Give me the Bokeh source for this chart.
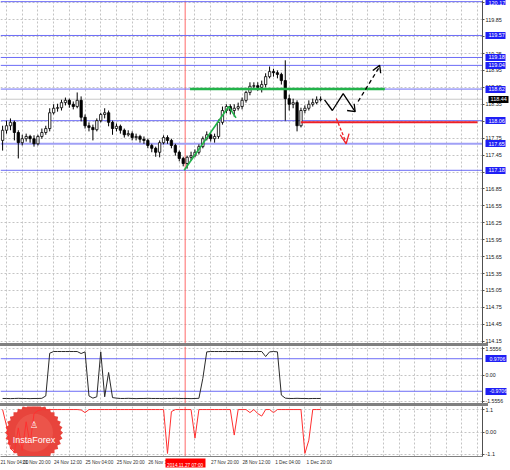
from bokeh.plotting import figure
from bokeh.layouts import column
from bokeh.models import (Range1d, FixedTicker, Span, Label, Div, ColumnDataSource,
                          LinearAxis)
from bokeh.embed import file_html
from bokeh.resources import INLINE

# ---------------- data ----------------
# hour index counted from 21 Nov 04:00 (2-hour bars)
hours = list(range(6, 170, 2))
opens = [117.71, 117.89, 117.97, 118.03, 117.85, 117.67, 117.74, 117.78, 117.74, 117.65,
         117.78, 117.85, 117.92, 118.20, 118.28, 118.29, 118.38, 118.42, 118.35, 118.31,
         118.42, 118.12, 117.97, 117.94, 117.90, 118.06, 118.17, 118.20, 118.03, 117.92,
         117.96, 117.89, 117.81, 117.83, 117.76, 117.78, 117.73, 117.71, 117.62, 117.57,
         117.50, 117.67, 117.76, 117.71, 117.62, 117.50, 117.39, 117.30, 117.41, 117.44,
         117.50, 117.60, 117.74, 117.81, 117.74, 117.78, 118.03, 118.24, 118.31, 118.24,
         118.28, 118.31, 118.42, 118.56, 118.67, 118.68, 118.65, 118.70, 118.84, 118.93,
         118.91, 118.88, 118.77, 118.45, 118.35, 118.38, 117.97, 118.24, 118.28, 118.35,
         118.38, 118.43]
highs = [117.97, 118.06, 118.10, 118.06, 117.89, 117.81, 117.83, 117.81, 117.80, 117.81,
         117.92, 117.97, 118.28, 118.35, 118.36, 118.43, 118.47, 118.45, 118.40, 118.56,
         118.49, 118.17, 118.03, 117.99, 118.10, 118.20, 118.28, 118.24, 118.06, 118.01,
         117.99, 117.92, 117.89, 117.87, 117.83, 117.81, 117.78, 117.74, 117.65, 117.60,
         117.71, 117.80, 117.80, 117.74, 117.65, 117.53, 117.42, 117.44, 117.51, 117.55,
         117.64, 117.78, 117.87, 117.85, 117.83, 118.08, 118.31, 118.35, 118.35, 118.35,
         118.38, 118.47, 118.59, 118.74, 118.74, 118.74, 118.77, 118.90, 119.02, 118.98,
         118.95, 118.91, 119.13, 118.52, 118.45, 118.42, 118.29, 118.33, 118.42, 118.45,
         118.49, 118.49]
lows = [117.53, 117.83, 117.89, 117.71, 117.39, 117.62, 117.69, 117.67, 117.60, 117.62,
        117.74, 117.81, 117.87, 118.17, 118.22, 118.24, 118.33, 118.29, 118.26, 118.28,
        118.05, 117.92, 117.87, 117.71, 117.87, 118.03, 118.10, 117.96, 117.81, 117.87,
        117.83, 117.76, 117.78, 117.71, 117.71, 117.67, 117.65, 117.57, 117.50, 117.42,
        117.41, 117.64, 117.65, 117.57, 117.44, 117.34, 117.25, 117.21, 117.35, 117.41,
        117.46, 117.57, 117.71, 117.69, 117.67, 117.74, 117.99, 118.19, 118.17, 118.13,
        118.24, 118.26, 118.38, 118.51, 118.61, 118.59, 118.56, 118.65, 118.81, 118.84,
        118.81, 118.70, 118.06, 118.24, 118.28, 117.87, 117.94, 118.19, 118.24, 118.31,
        118.35, 118.40]
closes = [117.89, 117.97, 118.03, 117.85, 117.67, 117.74, 117.78, 117.74, 117.65, 117.78,
          117.85, 117.92, 118.20, 118.28, 118.29, 118.38, 118.42, 118.35, 118.31, 118.42,
          118.12, 117.97, 117.94, 117.90, 118.06, 118.17, 118.20, 118.03, 117.92, 117.96,
          117.89, 117.81, 117.83, 117.76, 117.78, 117.73, 117.71, 117.62, 117.57, 117.50,
          117.67, 117.76, 117.71, 117.62, 117.50, 117.39, 117.30, 117.41, 117.44, 117.50,
          117.60, 117.74, 117.81, 117.74, 117.78, 118.03, 118.24, 118.31, 118.24, 118.28,
          118.31, 118.42, 118.56, 118.67, 118.68, 118.65, 118.70, 118.84, 118.93, 118.91,
          118.88, 118.77, 118.45, 118.35, 118.38, 117.97, 118.24, 118.28, 118.35, 118.38,
          118.43, 118.44]

osc1 = [-1.40, -1.40, -1.41, -1.40, -1.39, -1.40, -1.40, -1.41, -1.40, -1.40,
        -1.39, -1.25, 1.30, 1.40, 1.40, 1.40, 1.40, 1.40, 1.40, 1.40,
        1.28, 1.38, -1.25, -1.38, -1.30, 1.38, -1.30, 0.15, -1.35, -1.38,
        -1.40, -1.40, -1.39, -1.40, -1.41, -1.40, -1.40, -1.39, -1.40, -1.40,
        -1.40, -1.41, -1.40, -1.40, -1.39, -1.40, -1.40, -1.40, -1.41, -1.40,
        -1.39, -0.20, 1.38, 1.40, 1.40, 1.40, 1.40, 1.40, 1.40, 1.40,
        1.40, 1.40, 1.40, 1.40, 1.40, 1.40, 1.40, 1.10, 1.38, 1.40,
        1.38, -1.20, -1.38, -1.40, -1.40, -1.39, -1.40, -1.40, -1.41, -1.40,
        -1.40, -1.40]
osc2 = [1.10, 0.30, -0.80, -1.00, 0.20, -0.90, 0.50, -0.60, 0.90, 1.05,
        1.10, 1.10, 1.10, 1.10, 1.10, 1.10, 1.10, 1.10, 1.10, 1.10,
        1.08, 0.95, 1.10, 1.10, 1.10, 1.10, 1.10, 1.10, 1.10, 1.10,
        1.10, 1.10, 1.10, 1.10, 1.10, 1.10, 1.10, 1.10, 1.10, 1.10,
        1.10, 1.10, -1.05, 1.00, 1.10, 1.10, 1.10, 1.10, 1.10, -0.30,
        1.10, 1.10, 1.10, 1.10, 1.10, 1.10, 1.10, 1.10, 1.10, -0.15,
        1.10, 1.10, 1.10, 0.95, 1.10, 0.90, 0.78, 1.10, 1.10, 0.95,
        1.10, 1.10, 1.10, 1.10, 1.10, 1.10, 1.10, -1.05, -0.40, 1.10,
        1.10, 1.10]

levels = [120.17, 119.57, 119.18, 119.04, 118.62, 118.06, 117.65, 117.18]
current_price = 118.44
main_ticks = [114.15, 114.45, 114.75, 115.05, 115.35, 115.65, 115.95, 116.25, 116.55,
              116.85, 117.15, 117.45, 117.75, 118.05, 118.35, 118.65, 118.95, 119.25,
              119.55, 119.85, 120.15]
osc1_ticks = [-1.5556, 0.0, 1.5556]
osc1_tick_labels = ["-1.5556", "0.00", "1.5556"]
osc1_levels = [0.9706, -0.9706]
osc2_ticks = [-1.1, 0.0, 1.1]
osc2_tick_labels = ["-1.1", "0.00", "1.1"]

time_label_hours = [0, 16, 32, 48, 64, 80, 112, 128, 144, 160]
time_labels = ["21 Nov 04:00", "21 Nov 20:00", "24 Nov 12:00", "25 Nov 04:00",
               "25 Nov 20:00", "26 Nov 12:00", "27 Nov 20:00", "28 Nov 12:00",
               "1 Dec 04:00", "1 Dec 20:00"]
marker_hour = 99
marker_text = "2014.11.27 07:00"

# drawn analysis objects (hour, price)
trend_h = [98.5, 121.2, 124.9]
trend_p = [117.18, 118.31, 118.11]
res_h = [101.5, 200.7]
res_p = [118.62, 118.62]
sup_h = [157.9, 247.9]
sup_p = [118.03, 118.03]
zig_h = [170.0, 174.0, 179.5, 185.6]
zig_p = [118.43, 118.24, 118.54, 118.22]
zig_head_h = [181.5, 185.6, 185.1]
zig_head_p = [118.24, 118.22, 118.36]
up_h = [187.1, 198.1]
up_p = [118.40, 119.02]
up_head_h = [194.6, 198.1, 198.6]
up_head_p = [118.95, 119.04, 118.90]
dn_h = [176.0, 181.0]
dn_p = [118.10, 117.67]
dn_head_h = [178.0, 181.0, 182.5]
dn_head_p = [117.81, 117.65, 117.83]

# ---------------- layout ----------------
FONT = "Liberation Sans"
W = 510
RB = 22
xr = Range1d(4.93, 250.47)
grid_hours = list(range(0, 256, 8))
LEVEL_BLUE = "#6c6cf6"
BOX_BLUE = "#1f1ff5"


def make_fig(height, yr, x_axis=None, label_size="5.5px", bottom=0):
    p = figure(width=W, height=height, x_range=xr, y_range=yr,
               x_axis_location=x_axis, y_axis_location="right",
               output_backend="svg", toolbar_location=None,
               min_border_left=0, min_border_right=RB, min_border_top=0,
               min_border_bottom=bottom)
    p.outline_line_color = None
    p.background_fill_color = "white"
    for g in (p.xgrid[0], p.ygrid[0]):
        g.grid_line_color = "#c4c4c4"
        g.grid_line_dash = "2 2"
        g.grid_line_width = 1
    p.xgrid[0].ticker = FixedTicker(ticks=grid_hours)
    ax = p.yaxis[0]
    ax.axis_line_color = "#505050"
    ax.major_tick_line_color = "#505050"
    ax.major_tick_out = 2
    ax.major_tick_in = 0
    ax.minor_tick_out = 0
    ax.minor_tick_in = 0
    ax.minor_tick_line_color = None
    ax.major_label_standoff = 1
    ax.major_label_text_font = FONT
    ax.major_label_text_font_size = label_size
    ax.major_label_text_color = "#202020"
    p.add_layout(Span(location=marker_hour, dimension="height", level="underlay",
                      line_color="#ff6a6a", line_width=1))
    return p


def hline(p, y, color, width=1):
    p.add_layout(Span(location=y, dimension="width", level="underlay",
                      line_color=color, line_width=width))


def box_axis(p, ticks, labels, color, standoff, reach, size="5.5px"):
    # value boxes on the price scale: a second scale stacked outside the first one,
    # whose thick inward ticks reach back over the first scale as label boxes
    ax = LinearAxis(ticker=FixedTicker(ticks=ticks),
                    major_label_overrides=dict(zip(ticks, labels)),
                    axis_line_color=None, major_tick_out=0, major_tick_in=reach,
                    major_tick_line_width=7, major_tick_line_color=color,
                    minor_tick_line_color=None, minor_tick_out=0, minor_tick_in=0,
                    major_label_standoff=standoff,
                    major_label_text_color="white", major_label_text_font=FONT,
                    major_label_text_font_size=size)
    p.add_layout(ax, "right")


# ---- main price panel ----
main = make_fig(343, Range1d(114.11, 120.19))
main.yaxis[0].ticker = FixedTicker(ticks=main_ticks)
main.yaxis[0].major_label_overrides = {t: f"{t:.2f}" for t in main_ticks}

hline(main, current_price, "#c8c8c8")
for lv in levels:
    thick = lv == 117.65
    hline(main, lv, "#a0a0f6" if thick else LEVEL_BLUE, 2 if thick else 1)

src = ColumnDataSource(dict(
    h=hours, o=opens, hi=highs, lo=lows, c=closes,
    fill=["white" if c > o else "black" for o, c in zip(opens, closes)]))
main.segment(x0="h", y0="hi", x1="h", y1="lo", source=src, line_color="black", line_width=1)
main.vbar(x="h", width=1.2, top="o", bottom="c", source=src,
          fill_color="fill", line_color="black", line_width=0.8)

main.line(res_h, res_p, line_color="#22b34a", line_width=2.5)
main.line(trend_h, trend_p, line_color="#22b34a", line_width=1.6)
main.line(sup_h, sup_p, line_color="#ee2027", line_width=2)
main.line(zig_h, zig_p, line_color="black", line_width=1.3)
main.line(zig_head_h, zig_head_p, line_color="black", line_width=1.3)
main.line(up_h, up_p, line_color="black", line_width=1.3, line_dash="4 3")
main.line(up_head_h, up_head_p, line_color="black", line_width=1.3)
main.line(dn_h, dn_p, line_color="#ee2027", line_width=1.3, line_dash="3 2")
main.line(dn_head_h, dn_head_p, line_color="#ee2027", line_width=1.3)

box_axis(main, levels, [f"{lv:.2f}" for lv in levels], BOX_BLUE, -17, 20)
box_axis(main, [current_price], [f"{current_price:.2f}"], "black", -18, 20)

# ---- oscillator 1 ----
ind1 = make_fig(57, Range1d(-1.70, 1.70), label_size="5.2px")
ind1.yaxis[0].ticker = FixedTicker(ticks=osc1_ticks)
ind1.yaxis[0].major_label_overrides = dict(zip(osc1_ticks, osc1_tick_labels))
for lv in osc1_levels:
    hline(ind1, lv, LEVEL_BLUE)
ind1.line(hours, osc1, line_color="#2a2a2a", line_width=1)
box_axis(ind1, osc1_levels, [f"{lv:.4f}" for lv in osc1_levels], BOX_BLUE, -17, 21,
         size="5.2px")

# ---- oscillator 2 ----
ind2_yr = Range1d(-1.2, 1.25)
ind2 = make_fig(64, ind2_yr, x_axis="below", bottom=11)
ind2.yaxis[0].ticker = FixedTicker(ticks=osc2_ticks)
ind2.yaxis[0].major_label_overrides = dict(zip(osc2_ticks, osc2_tick_labels))
xa = ind2.xaxis[0]
tick_pos = [h + 7.3 for h in time_label_hours]
xa.ticker = FixedTicker(ticks=tick_pos)
xa.major_label_overrides = dict(zip(tick_pos, time_labels))
xa.axis_line_color = "#808080"
xa.major_tick_line_color = None
xa.major_tick_out = 0
xa.major_tick_in = 0
xa.minor_tick_out = 0
xa.minor_tick_in = 0
xa.minor_tick_line_color = None
xa.major_label_standoff = 3
xa.major_label_text_font = FONT
xa.major_label_text_font_size = "4.7px"
xa.major_label_text_color = "#303030"

# InstaForex seal (watermark)
seal_x, seal_y = 22.0, -0.04
for ang in (0, 11.25, 22.5, 33.75, 45, 56.25, 67.5, 78.75):
    ind2.scatter([seal_x], [seal_y], marker="square", size=41, angle=ang,
                 angle_units="deg", fill_color="#e8443c", line_color=None)
ind2.scatter([seal_x], [seal_y], marker="circle", size=52, fill_color="#e8443c", line_color=None)
ind2.scatter([seal_x], [seal_y], marker="circle", size=38, fill_color="#ec544a", line_color=None)
ind2.add_layout(Label(x=seal_x, y=seal_y, text="InstaForex", text_align="center",
                      text_baseline="middle", y_offset=-7, text_font=FONT,
                      text_font_size="9px", text_color="white"))
ind2.add_layout(Label(x=seal_x, y=seal_y, text="♙", text_align="center",
                      text_baseline="middle", y_offset=8, text_font="DejaVu Sans",
                      text_font_size="9px", text_color="white"))
ind2.line(hours, osc2, line_color="#ff3030", line_width=1)

# time marker box: a second time scale stacked under the first, whose thick
# inward tick reaches back up over the first one
mk = LinearAxis(ticker=FixedTicker(ticks=[marker_hour]),
                major_label_overrides={marker_hour: marker_text},
                axis_line_color=None, major_tick_out=0, major_tick_in=9,
                major_tick_line_width=40, major_tick_line_color="#ff0000",
                minor_tick_line_color=None, minor_tick_out=0, minor_tick_in=0,
                major_label_standoff=-5,
                major_label_text_color="white", major_label_text_font=FONT,
                major_label_text_font_size="4.7px")
ind2.add_layout(mk, "below")


def sep():
    return Div(text="", width=W - RB, height=3, margin=0,
               styles={"background-color": "#808080"})


layout = column(main, sep(), ind1, sep(), ind2, spacing=0)
open("out.html", "w").write(file_html(layout, INLINE))
